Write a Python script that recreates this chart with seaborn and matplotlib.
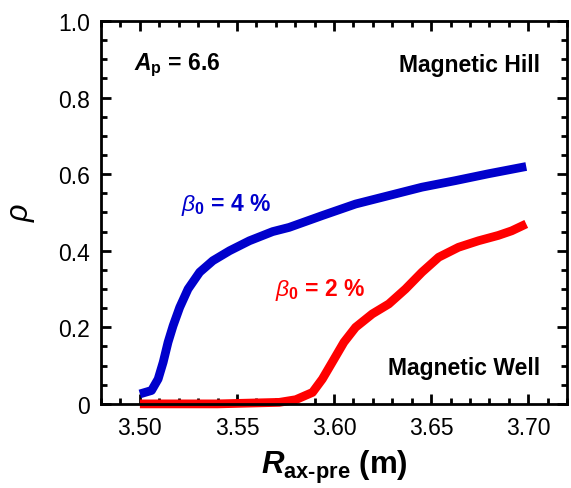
import matplotlib
matplotlib.use("Agg")
import matplotlib.pyplot as plt
from matplotlib.ticker import MultipleLocator
import seaborn as sns
import pandas as pd

# Pre-set magnetic axis position R_ax-pre (m) and normalized radius rho
r_beta4 = [3.5000, 3.5060, 3.5094, 3.5120, 3.5145, 3.5171, 3.5205, 3.5248, 3.5308,
           3.5376, 3.5462, 3.5564, 3.5684, 3.5769, 3.5940, 3.6111, 3.6282, 3.6453,
           3.6624, 3.6795, 3.6990]
rho_beta4 = [0.026, 0.035, 0.065, 0.109, 0.161, 0.204, 0.252, 0.300, 0.344,
             0.374, 0.400, 0.426, 0.450, 0.461, 0.492, 0.522, 0.544, 0.566,
             0.583, 0.601, 0.620]

r_beta2 = [3.5000, 3.5400, 3.5718, 3.5803, 3.5889, 3.5940, 3.5991, 3.6051, 3.6111,
           3.6197, 3.6282, 3.6368, 3.6453, 3.6539, 3.6641, 3.6744, 3.6846, 3.6915,
           3.6990]
rho_beta2 = [0.000, 0.000, 0.004, 0.011, 0.030, 0.065, 0.109, 0.161, 0.200,
             0.235, 0.261, 0.300, 0.344, 0.383, 0.409, 0.426, 0.440, 0.452,
             0.470]

sns.set_style("ticks")
plt.rcParams["font.family"] = ["Liberation Sans", "DejaVu Sans"]
plt.rcParams["mathtext.fontset"] = "custom"
plt.rcParams["mathtext.rm"] = "Liberation Sans:bold"
plt.rcParams["mathtext.bf"] = "Liberation Sans:bold"
plt.rcParams["mathtext.it"] = "Liberation Sans:italic:bold"
plt.rcParams["mathtext.sf"] = "Liberation Sans:italic"
plt.rcParams["text.color"] = "black"
plt.rcParams["axes.labelcolor"] = "black"
plt.rcParams["xtick.color"] = "black"
plt.rcParams["ytick.color"] = "black"

fig = plt.figure(figsize=(5.71, 4.89), dpi=100)
ax = fig.add_axes([0.177, 0.172, 0.816, 0.783])

df4 = pd.DataFrame({"R": r_beta4, "rho": rho_beta4})
df2 = pd.DataFrame({"R": r_beta2, "rho": rho_beta2})
sns.lineplot(data=df2, x="R", y="rho", ax=ax, color="#ff0000", lw=6.3,
             sort=False, estimator=None, solid_capstyle="butt",
             solid_joinstyle="round", clip_on=False, zorder=2)
sns.lineplot(data=df4, x="R", y="rho", ax=ax, color="#0000cc", lw=6.3,
             sort=False, estimator=None, solid_capstyle="butt",
             solid_joinstyle="round", clip_on=False, zorder=2)

ax.set_xlim(3.48, 3.72)
ax.set_ylim(0, 1.0)
ax.xaxis.set_minor_locator(MultipleLocator(0.01))
ax.yaxis.set_minor_locator(MultipleLocator(0.05))
ax.set_xticks([3.50, 3.55, 3.60, 3.65, 3.70])
ax.set_xticklabels(["3.50", "3.55", "3.60", "3.65", "3.70"])
ax.set_yticks([0, 0.2, 0.4, 0.6, 0.8, 1.0])
ax.set_yticklabels(["0", "0.2", "0.4", "0.6", "0.8", "1.0"])

for s in ax.spines.values():
    s.set_linewidth(2.0)
    s.set_color("black")
    s.set_visible(True)
    s.set_zorder(3)
ax.tick_params(which="both", direction="in", top=True, right=True,
               width=2.0, color="black", labelsize=16.5)
ax.tick_params(axis="x", which="major", pad=9)
ax.tick_params(axis="y", which="major", pad=8)
ax.tick_params(which="major", length=7)
ax.tick_params(which="minor", length=4)

ax.set_xlabel(r"$\mathit{R}_\mathbf{ax\text{-}pre}$ (m)", fontsize=22.5,
              fontweight="bold", labelpad=6)
ax.set_ylabel("ρ", fontsize=22, fontstyle="italic", labelpad=16)

ax.text(0.07, 0.886, r"$\mathit{A}_\mathbf{p}$ = 6.6", transform=ax.transAxes,
        fontsize=16.5, fontweight="bold", va="center", ha="left")
ax.text(0.942, 0.886, "Magnetic Hill", transform=ax.transAxes,
        fontsize=16.5, fontweight="bold", va="center", ha="right")
ax.text(0.942, 0.094, "Magnetic Well", transform=ax.transAxes,
        fontsize=16.5, fontweight="bold", va="center", ha="right")
ax.text(0.172, 0.522, r"$\mathsf{\beta}_\mathbf{0}$ = 4 %", transform=ax.transAxes,
        fontsize=16.5, fontweight="bold", va="center", ha="left", color="#0000cc")
ax.text(0.373, 0.30, r"$\mathsf{\beta}_\mathbf{0}$ = 2 %", transform=ax.transAxes,
        fontsize=16.5, fontweight="bold", va="center", ha="left", color="#ff0000")

fig.savefig("out.png", dpi=100)
